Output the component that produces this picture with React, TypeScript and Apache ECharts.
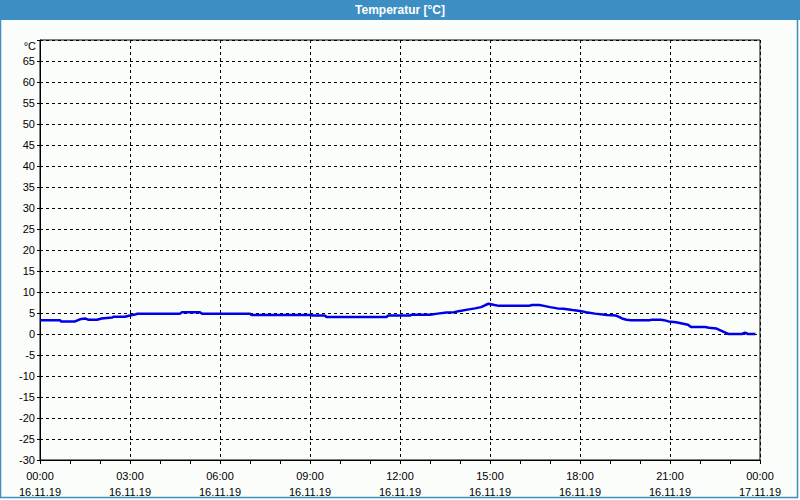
import React, { useEffect, useRef } from "react";
import * as echarts from "echarts";

const title = "Temperatur [°C]";
const unitLabel = "°C";
const xTickLabels = [
  "00:00\n16.11.19", "03:00\n16.11.19", "06:00\n16.11.19", "09:00\n16.11.19",
  "12:00\n16.11.19", "15:00\n16.11.19", "18:00\n16.11.19", "21:00\n16.11.19",
  "00:00\n17.11.19",
];
// time in hours since 16.11.19 00:00
const hours = [
  0.0, 0.67, 0.7, 1.17, 1.33, 1.5, 1.6, 1.9, 2.05, 2.4, 2.45, 2.83, 3.0, 3.2, 3.25,
  4.67, 4.73, 5.33, 5.4, 7.0, 7.05, 9.0, 9.1, 9.5, 9.55, 11.55, 11.6, 12.33, 12.4,
  13.0, 13.25, 13.55, 13.8, 14.0, 14.25, 14.5, 14.7, 14.85, 14.95, 15.15, 15.3,
  16.3, 16.4, 16.65, 16.8, 17.0, 17.25, 17.45, 17.75, 18.0, 18.2, 18.5, 18.9, 19.2,
  19.3, 19.4, 19.55, 19.7, 20.33, 20.4, 20.7, 20.8, 20.95, 21.2, 21.4, 21.6, 21.7,
  22.17, 22.3, 22.55, 22.7, 22.85, 22.95, 23.4, 23.5, 23.6, 23.85,
];
const temps = [
  3.3, 3.3, 3.0, 3.0, 3.5, 3.7, 3.4, 3.4, 3.7, 3.9, 4.1, 4.1, 4.4, 4.7, 4.85,
  4.85, 5.2, 5.2, 4.85, 4.85, 4.5, 4.5, 4.4, 4.4, 4.05, 4.05, 4.4, 4.4, 4.6,
  4.6, 4.85, 5.1, 5.2, 5.5, 5.8, 6.1, 6.4, 6.9, 7.2, 6.9, 6.7,
  6.7, 6.9, 6.9, 6.7, 6.4, 6.1, 6.0, 5.7, 5.5, 5.2, 4.85, 4.5, 4.4,
  4.05, 3.7, 3.4, 3.3, 3.3, 3.4, 3.4, 3.3, 3.0, 2.8, 2.5, 2.2, 1.65,
  1.65, 1.5, 1.3, 0.8, 0.3, 0.0, 0.0, 0.3, 0.0, 0.0,
];

const FONT = "Liberation Sans";

export default function App() {
  const ref = useRef<HTMLDivElement>(null);
  useEffect(() => {
    const chart = echarts.init(ref.current!, null, { renderer: "svg" });
    chart.setOption({
      animation: false,
      backgroundColor: "#fbfdfb",
      textStyle: { fontFamily: FONT },
      graphic: [
        { type: "rect", shape: { x: 0, y: 0, width: 800, height: 20 }, style: { fill: "#3d8fc3" } },
        {
          type: "rect",
          shape: { x: 0.5, y: 0.5, width: 797, height: 497 },
          style: { fill: "none", stroke: "#3d8fc3", lineWidth: 1.5 },
        },
        {
          type: "text", x: 400, y: 10,
          style: {
            text: title, fill: "#ffffff", font: `bold 12px ${FONT}`,
            align: "center", verticalAlign: "middle",
          },
        },
        {
          type: "text", x: 36, y: 46,
          style: {
            text: unitLabel, fill: "#000000", font: `11px ${FONT}`,
            align: "right", verticalAlign: "middle",
          },
        },
      ],
      grid: {
        left: 40, right: 40, top: 40, bottom: 40,
        show: true, borderColor: "#000000", borderWidth: 1, backgroundColor: "transparent",
      },
      xAxis: {
        type: "value", min: 0, max: 24, interval: 3,
        axisLine: { show: true, onZero: false, lineStyle: { color: "#000", width: 1 } },
        axisTick: { show: true, length: 4, lineStyle: { color: "#000" } },
        minorTick: { show: true, splitNumber: 3, length: 4, lineStyle: { color: "#000" } },
        splitLine: { show: true, lineStyle: { color: "#000", type: [3, 3], width: 1 } },
        axisLabel: {
          color: "#000", fontSize: 11, fontFamily: FONT, lineHeight: 16, margin: 8,
          formatter: (v: number) => xTickLabels[Math.round(v / 3)] ?? "",
        },
      },
      yAxis: {
        type: "value", min: -30, max: 70, interval: 5,
        axisLine: { show: true, onZero: false, lineStyle: { color: "#000", width: 1 } },
        axisTick: { show: true, length: 3, lineStyle: { color: "#000" } },
        splitLine: { show: true, lineStyle: { color: "#000", type: [3, 3], width: 1 } },
        axisLabel: {
          color: "#000", fontSize: 11, fontFamily: FONT, margin: 5,
          formatter: (v: number) => (v === 70 ? "" : String(v)),
        },
      },
      series: [
        {
          type: "line",
          data: hours.map((h, i) => [h, temps[i]]),
          showSymbol: false,
          symbol: "none",
          lineStyle: { color: "#0000e8", width: 2.5 },
        },
      ],
    });
    return () => chart.dispose();
  }, []);
  return (
    <div
      ref={ref}
      style={{ position: "fixed", left: 0, top: 0, width: 800, height: 500 }}
    />
  );
}
